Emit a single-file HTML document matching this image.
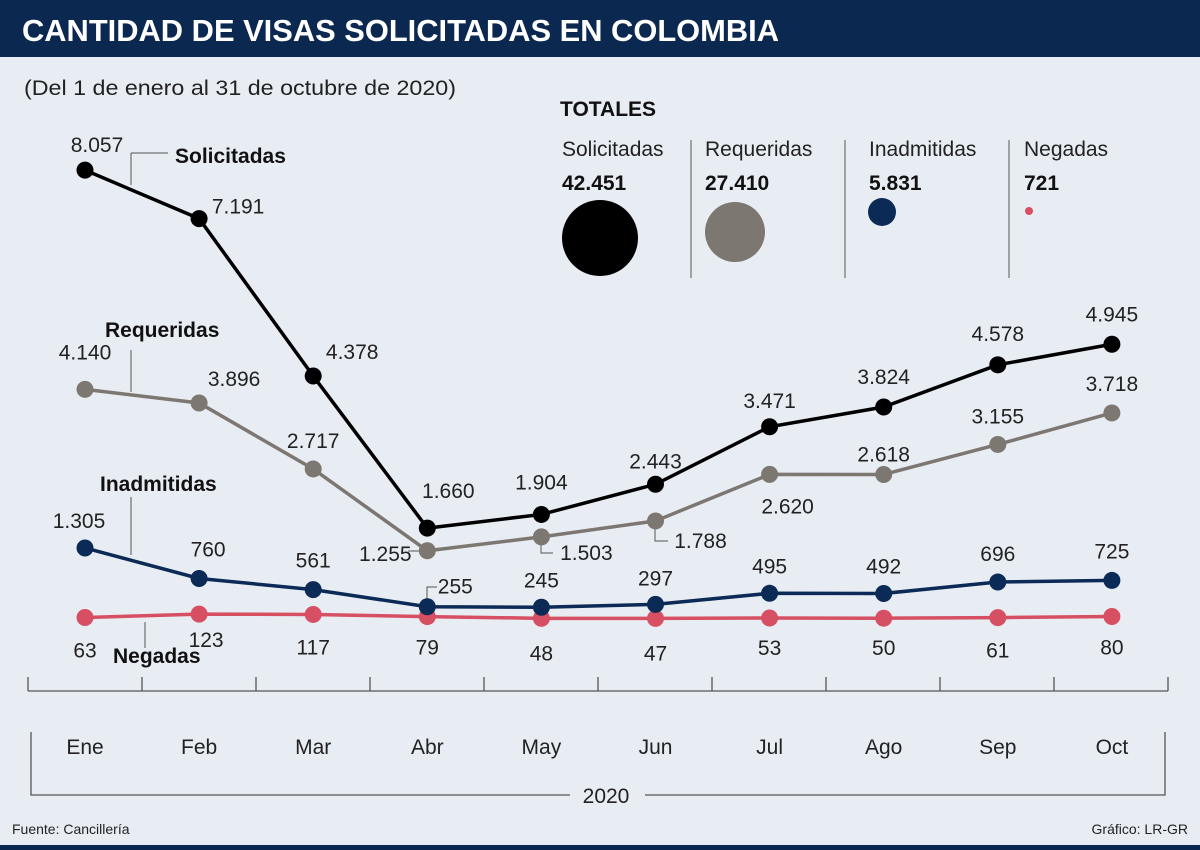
<!DOCTYPE html>
<html><head><meta charset="utf-8"><style>
body{margin:0;width:1200px;height:850px;overflow:hidden;background:#e8edf4;font-family:"Liberation Sans",sans-serif}
svg{display:block}
text{font-family:"Liberation Sans",sans-serif}
</style></head><body>
<svg id="c" width="1200" height="850">
<rect x="0" y="0" width="1200" height="57" fill="#0b2850"/>
<text x="22" y="41" font-size="31" font-weight="bold" fill="#fff" textLength="757" lengthAdjust="spacingAndGlyphs">CANTIDAD DE VISAS SOLICITADAS EN COLOMBIA</text>
<text x="24" y="95" font-size="21" fill="#222" textLength="432" lengthAdjust="spacingAndGlyphs">(Del 1 de enero al 31 de octubre de 2020)</text>
<rect x="0" y="845" width="1200" height="5" fill="#0b2850"/>
<text x="12" y="834" font-size="14" fill="#222">Fuente: Cancillería</text>
<text x="1188" y="834" font-size="14" fill="#222" text-anchor="end">Gráfico: LR-GR</text>
<g id="totals">
<text x="560" y="116" font-size="21" font-weight="bold" fill="#111">TOTALES</text>
</g>
<g id="axis"></g>
<g id="plot"></g>
</svg>
<script>
const months=["Ene","Feb","Mar","Abr","May","Jun","Jul","Ago","Sep","Oct"];
const solicitadas=[8057,7191,4378,1660,1904,2443,3471,3824,4578,4945];
const requeridas=[4140,3896,2717,1255,1503,1788,2620,2618,3155,3718];
const inadmitidas=[1305,760,561,255,245,297,495,492,696,725];
const negadas=[63,123,117,79,48,47,53,50,61,80];
const totalNames=["Solicitadas","Requeridas","Inadmitidas","Negadas"];
const totalValues=[42451,27410,5831,721];

const NS="http://www.w3.org/2000/svg";
const x=i=>85+i*114.1;
const y=v=>621-v*0.05596;
const fmt=v=>v>=1000?Math.floor(v/1000)+"."+String(v%1000).padStart(3,"0"):String(v);
function mk(tag,attrs,parent,txt){const e=document.createElementNS(NS,tag);for(const k in attrs)e.setAttribute(k,attrs[k]);if(txt!==undefined)e.textContent=txt;parent.appendChild(e);return e;}
const plot=document.getElementById("plot"),axis=document.getElementById("axis"),tot=document.getElementById("totals");

// axis
let al=mk("line",{x1:28,y1:691,x2:1168,y2:691,stroke:"#555","stroke-width":1.3},axis);


for(let i=0;i<=10;i++){const tx=28+i*114;let t=mk("line",{x1:tx,y1:677,x2:tx,y2:691,stroke:"#555","stroke-width":1.3},axis);

}
months.forEach((m,i)=>{let t=mk("text",{x:x(i),y:754,"font-size":21,fill:"#222","text-anchor":"middle"},axis,m);

});
let br=mk("path",{d:"M31 732 V795 H570 M645 795 H1165 V732",fill:"none",stroke:"#555","stroke-width":1.3},axis);


let yr=mk("text",{x:606,y:803,"font-size":21,fill:"#222","text-anchor":"middle"},axis,"2020");



// leader lines
const leaders=["M131 153 H168 M131 153 V185","M131 350 V392","M131 497 V555","M145 622 V648","M541 540 V553 H553","M655 525 V541 H668","M427 605 V587 H437","M408 551 H420"];
leaders.forEach(d=>{let l=mk("path",{d:d,fill:"none",stroke:"#555","stroke-width":1},plot);

});

const series=[
 {name:"solicitadas",data:solicitadas,color:"#000",off:[[12,-25],[39,-12],[39,-24],[21,-37],[0,-32],[0,-23],[0,-26],[0,-30],[0,-31],[0,-30]]},
 {name:"requeridas",data:requeridas,color:"#7d7772",off:[[0,-37],[35,-24],[0,-28],[-42,3],[45,16],[45,20],[18,32],[0,-20],[0,-28],[0,-29]]},
 {name:"inadmitidas",data:inadmitidas,color:"#0b2a55",off:[[-6,-27],[9,-29],[0,-29],[28,-20],[0,-27],[0,-26],[0,-27],[0,-27],[0,-28],[0,-29]]},
 {name:"negadas",data:negadas,color:"#d64f63",off:[[0,33],[7,26],[0,33],[0,31],[0,35],[0,35],[0,30],[0,30],[0,33],[0,31]]}
];
[...series].reverse().forEach(s=>{
 const pts=s.data.map((v,i)=>x(i)+","+y(v)).join(" ");
 let pl=mk("polyline",{points:pts,fill:"none",stroke:s.color,"stroke-width":3.5},plot);
 
 
 s.data.forEach((v,i)=>{
  let c=mk("circle",{cx:x(i),cy:y(v),r:8.5,fill:s.color},plot);
  
  
  let t=mk("text",{x:x(i)+s.off[i][0],y:y(v)+s.off[i][1]+7,"font-size":21,fill:"#222","text-anchor":"middle"},plot,fmt(v));
  
  
 });
});
const names=[["Solicitadas",175,163],["Requeridas",105,337],["Inadmitidas",100,491],["Negadas",113,663]];
names.forEach(n=>{let t=mk("text",{x:n[1],y:n[2],"font-size":21,"font-weight":"bold",fill:"#111"},plot,n[0]);

});

// totals
const tx=[562,705,869,1024],bub=[[600,238,38,"#000"],[735,232,30,"#7d7772"],[882,212,14,"#0b2a55"],[1029,211,4,"#d64f63"]];
totalNames.forEach((n,i)=>{
 let a=mk("text",{x:tx[i],y:156,"font-size":21,fill:"#222"},tot,n);
 
 
 let b=mk("text",{x:tx[i],y:190,"font-size":21,"font-weight":"bold",fill:"#111"},tot,fmt(totalValues[i]));
 
 
 let c=mk("circle",{cx:bub[i][0],cy:bub[i][1],r:bub[i][2]*Math.sqrt(totalValues[i]/totalValues[0])/(bub[i][2]/38)*(bub[i][2]/38)/Math.sqrt(totalValues[i]/totalValues[0])*1,fill:bub[i][3]},tot);
 
 
});
[691,845,1009].forEach(sx=>{let l=mk("line",{x1:sx,y1:140,x2:sx,y2:278,stroke:"#555","stroke-width":1},tot);

});
</script>
</body></html>
